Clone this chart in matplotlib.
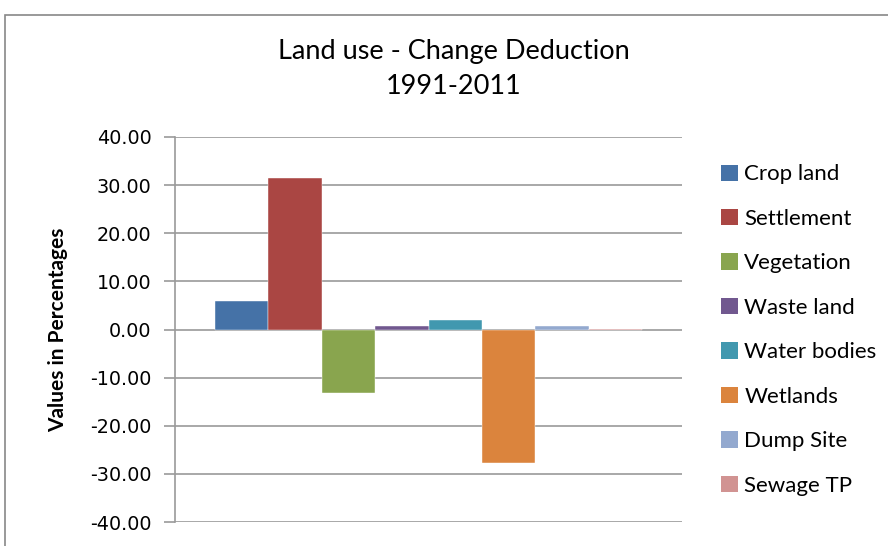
import matplotlib.pyplot as plt
from matplotlib.patches import Rectangle, Patch

# land use change 1991-2011, percent
classes = ["Crop land", "Settlement", "Vegetation", "Waste land",
           "Water bodies", "Wetlands", "Dump Site", "Sewage TP"]
change = [6.0, 31.4, -13.1, 0.8, 2.0, -27.8, 0.8, 0.2]
colors = ["#4572a7", "#aa4643", "#89a54e", "#71588f",
          "#4198af", "#db843d", "#93a9cf", "#d19392"]
yticks = [-40, -30, -20, -10, 0, 10, 20, 30, 40]

fig = plt.figure(figsize=(8.88, 5.46), dpi=100)
ax = fig.add_axes([175 / 888, 1 - 522 / 546, (682 - 175) / 888, (522 - 137) / 546])

# chart border
fig.patches.append(Rectangle((5 / 888, -0.05), 1.0, 1 - 15 / 546 + 0.05,
                             transform=fig.transFigure, fill=False,
                             edgecolor="#888888", linewidth=1.2))

n = len(classes)
bw = 1.0 / (n + 1.5)
start = -n * bw / 2
for i, (v, c) in enumerate(zip(change, colors)):
    ax.bar(start + i * bw, v, width=bw, align="edge", color=c,
           edgecolor="white", linewidth=0.3, zorder=3)

ax.set_xlim(-0.5, 0.5)
ax.set_ylim(-40, 40)
ax.set_yticks(yticks)
ax.set_yticklabels([f"{t:.2f}" for t in yticks], fontsize=13.8, family="DejaVu Sans")
ax.set_xticks([])
ax.grid(axis="y", color="#9a9a9a", linewidth=1.2, zorder=0)
ax.tick_params(axis="y", length=8, color="#9a9a9a", width=1.2, pad=9)
for s in ["top", "right", "bottom"]:
    ax.spines[s].set_visible(False)
ax.spines["left"].set_color("#9a9a9a")
ax.spines["left"].set_linewidth(1.2)

ax.set_ylabel("Values in Percentages", fontsize=15, fontweight="bold",
              family="Lato", labelpad=16)

fig.text(454 / 888, 1 - 69 / 546, "Land use - Change Deduction\n1991-2011",
         ha="center", va="center", fontsize=19.5, family="Lato",
         linespacing=1.45)

handles = [Patch(facecolor=c, edgecolor="none") for c in colors]
fig.legend(handles, classes, loc="center left",
           bbox_to_anchor=(701 / 888, 1 - 330 / 546), frameon=False,
           handlelength=0.75, handleheight=0.75,
           handletextpad=0.3, labelspacing=1.1,
           prop={"family": "Lato", "size": 16})

fig.savefig("out.png", dpi=100)
